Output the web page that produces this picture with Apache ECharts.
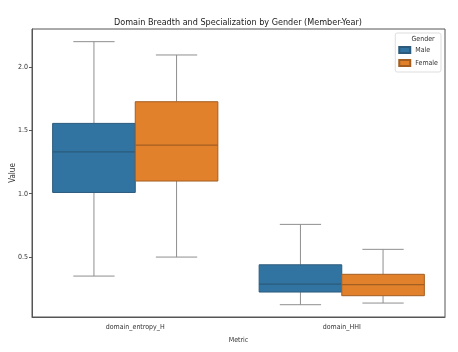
<!DOCTYPE html>
<html>
<head>
    <meta charset="utf-8">
    <title>Domain Breadth and Specialization</title>
    <script src="https://cdn.jsdelivr.net/npm/echarts@6/dist/echarts.min.js"></script>
</head>
<body style="margin:0">
    <div id="main" style="width: 458px;height:352px;"></div>
    <script type="text/javascript">
        // metrics on the x axis
        var metrics = ['domain_entropy_H', 'domain_HHI'];
        // box stats per metric: [min, q1, median, q3, max]
        var male = [
            [0.35, 1.01, 1.33, 1.555, 2.20],
            [0.124, 0.224, 0.287, 0.439, 0.758]
        ];
        var female = [
            [0.50, 1.10, 1.384, 1.726, 2.095],
            [0.137, 0.195, 0.282, 0.364, 0.561]
        ];
        var yTicks = [0.5, 1.0, 1.5, 2.0];

        var font = "'DejaVu Sans Condensed', 'Liberation Sans Narrow', sans-serif";

        function boxItem(params, api, fill, edge, shift) {
            var band = api.size([1, 0])[0];
            var boxW = band * 0.4;
            var cx = api.coord([api.value(0), 0])[0] + shift * band * 0.2;
            var yMin = api.coord([0, api.value(1)])[1];
            var yQ1 = api.coord([0, api.value(2)])[1];
            var yMed = api.coord([0, api.value(3)])[1];
            var yQ3 = api.coord([0, api.value(4)])[1];
            var yMax = api.coord([0, api.value(5)])[1];
            var capW = boxW / 2;
            var whisker = {stroke: '#8f8f8f', lineWidth: 1};
            return {
                type: 'group',
                children: [
                    {type: 'line', shape: {x1: cx, y1: yQ3, x2: cx, y2: yMax}, style: whisker},
                    {type: 'line', shape: {x1: cx, y1: yQ1, x2: cx, y2: yMin}, style: whisker},
                    {type: 'line', shape: {x1: cx - capW / 2, y1: yMax, x2: cx + capW / 2, y2: yMax}, style: whisker},
                    {type: 'line', shape: {x1: cx - capW / 2, y1: yMin, x2: cx + capW / 2, y2: yMin}, style: whisker},
                    {type: 'rect', shape: {x: cx - boxW / 2, y: yQ3, width: boxW, height: yQ1 - yQ3},
                        style: {fill: fill, stroke: edge, lineWidth: 1}},
                    {type: 'line', shape: {x1: cx - boxW / 2, y1: yMed, x2: cx + boxW / 2, y2: yMed},
                        style: {stroke: edge, lineWidth: 1.2}}
                ]
            };
        }

        function toData(stats) {
            return stats.map(function (s, i) { return [i].concat(s); });
        }

        var myChart = echarts.init(document.getElementById('main'));
        var option = {
            animation: false,
            textStyle: {fontFamily: font},
            title: {
                text: 'Domain Breadth and Specialization by Gender (Member-Year)',
                left: 233, top: 13, textAlign: 'center',
                textStyle: {fontSize: 9, fontWeight: 'normal', color: '#222', fontFamily: font}
            },
            graphic: [{
                type: 'text',
                x: 423, y: 39,
                z: 100,
                style: {text: 'Gender', fontSize: 7, fill: '#333', fontFamily: font,
                    align: 'center', verticalAlign: 'middle'}
            }],
            legend: {
                orient: 'vertical',
                right: 17, top: 33,
                padding: [13, 3, 5, 3],
                itemWidth: 11, itemHeight: 6, itemGap: 5,
                borderColor: '#ddd', borderWidth: 1, borderRadius: 2,
                icon: 'rect',
                textStyle: {fontSize: 7, color: '#333', fontFamily: font},
                data: ['Male', 'Female']
            },
            grid: {
                left: 32, right: 13, top: 29, bottom: 35,
                show: true, borderColor: '#555', borderWidth: 1
            },
            xAxis: {
                type: 'category',
                data: metrics,
                name: 'Metric',
                nameLocation: 'middle',
                nameGap: 20,
                nameTextStyle: {fontSize: 7, color: '#333'},
                axisLine: {lineStyle: {color: '#555'}},
                axisTick: {alignWithLabel: true, length: 3, lineStyle: {color: '#555'}},
                axisLabel: {fontSize: 7, color: '#333', margin: 7}
            },
            yAxis: {
                type: 'value',
                min: 0.027, max: 2.30,
                name: 'Value',
                nameLocation: 'middle',
                nameGap: 15,
                nameMoveOverlap: false,
                nameTextStyle: {fontSize: 8, color: '#333'},
                splitLine: {show: false},
                axisLine: {show: true, lineStyle: {color: '#555'}},
                axisTick: {show: true, length: 3, customValues: yTicks, lineStyle: {color: '#555'}},
                axisLabel: {fontSize: 7, color: '#333', margin: 4, customValues: yTicks,
                    formatter: function (v) { return v.toFixed(1); }}
            },
            series: [{
                name: 'Male',
                type: 'custom',
                itemStyle: {color: '#3274a1', borderColor: '#2b5a7c', borderWidth: 1},
                renderItem: function (p, api) { return boxItem(p, api, '#3274a1', '#2b5a7c', -1); },
                encode: {x: 0, y: [1, 2, 3, 4, 5]},
                data: toData(male)
            }, {
                name: 'Female',
                type: 'custom',
                itemStyle: {color: '#e1812c', borderColor: '#a35e22', borderWidth: 1},
                renderItem: function (p, api) { return boxItem(p, api, '#e1812c', '#a35e22', 1); },
                encode: {x: 0, y: [1, 2, 3, 4, 5]},
                data: toData(female)
            }]
        };
        myChart.setOption(option);
    </script>
</body>
</html>
